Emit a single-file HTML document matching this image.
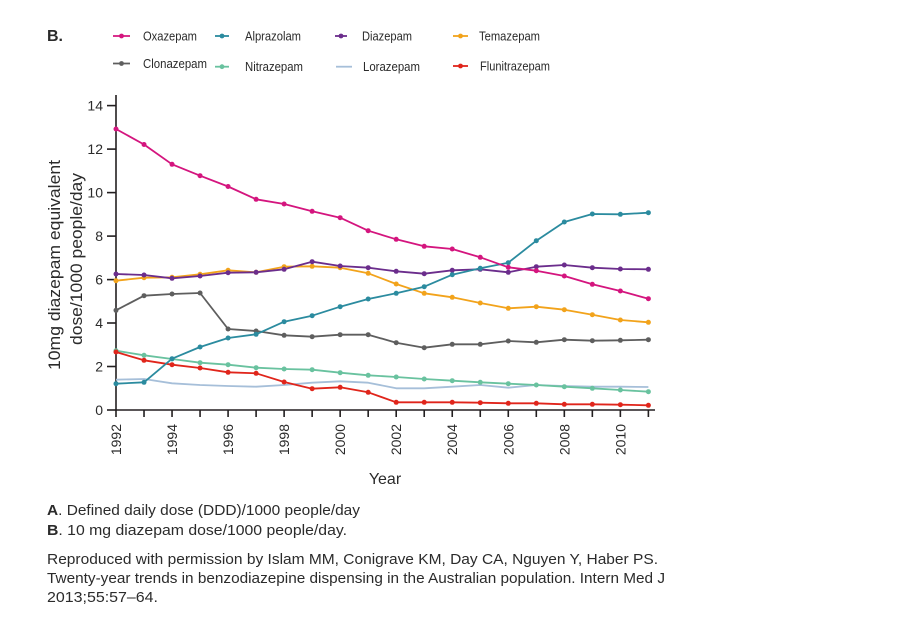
<!DOCTYPE html>
<html>
<head>
<meta charset="utf-8">
<style>
html,body{margin:0;padding:0;background:#fff;}
svg{display:block;}
text{font-family:"Liberation Sans",Arial,sans-serif;fill:#2b2b2b;}
</style>
</head>
<body>
<svg width="920" height="619" viewBox="0 0 920 619" xmlns="http://www.w3.org/2000/svg">
<rect width="920" height="619" fill="#fff"/>

<!-- Title -->
<text x="47" y="41" font-size="16" font-weight="bold" fill="#1a1a1a">B.</text>

<!-- Legend -->
<g stroke-width="1.8">
  <line x1="113" y1="36" x2="130" y2="36" stroke="#d4157e"/><circle cx="121.5" cy="36" r="2.4" fill="#d4157e"/>
  <line x1="215" y1="36" x2="229" y2="36" stroke="#2b8b9f"/><circle cx="222" cy="36" r="2.4" fill="#2b8b9f"/>
  <line x1="335" y1="36" x2="347" y2="36" stroke="#6b2d8c"/><circle cx="341" cy="36" r="2.4" fill="#6b2d8c"/>
  <line x1="453" y1="36" x2="468" y2="36" stroke="#f2a31b"/><circle cx="460.5" cy="36" r="2.4" fill="#f2a31b"/>
  <line x1="113" y1="63.5" x2="130" y2="63.5" stroke="#5e5e5e"/><circle cx="121.5" cy="63.5" r="2.4" fill="#5e5e5e"/>
  <line x1="215" y1="66.7" x2="229" y2="66.7" stroke="#69c29f"/><circle cx="222" cy="66.7" r="2.4" fill="#69c29f"/>
  <line x1="336" y1="66.7" x2="352" y2="66.7" stroke="#a6bfd9"/>
  <line x1="453" y1="66" x2="468" y2="66" stroke="#e0251b"/><circle cx="460.5" cy="66" r="2.4" fill="#e0251b"/>
</g>
<g font-size="13">
  <text x="143" y="40.5" textLength="54" lengthAdjust="spacingAndGlyphs">Oxazepam</text>
  <text x="245" y="40.5" textLength="56" lengthAdjust="spacingAndGlyphs">Alprazolam</text>
  <text x="362" y="40.5" textLength="50" lengthAdjust="spacingAndGlyphs">Diazepam</text>
  <text x="479" y="40.5" textLength="61" lengthAdjust="spacingAndGlyphs">Temazepam</text>
  <text x="143" y="68" textLength="64" lengthAdjust="spacingAndGlyphs">Clonazepam</text>
  <text x="245" y="71.2" textLength="58" lengthAdjust="spacingAndGlyphs">Nitrazepam</text>
  <text x="363" y="71.2" textLength="57" lengthAdjust="spacingAndGlyphs">Lorazepam</text>
  <text x="480" y="70.5" textLength="70" lengthAdjust="spacingAndGlyphs">Flunitrazepam</text>
</g>

<!-- Y axis label -->
<text transform="translate(60,265) rotate(-90)" text-anchor="middle" font-size="17" textLength="210" lengthAdjust="spacingAndGlyphs">10mg diazepam equivalent</text>
<text transform="translate(82,259) rotate(-90)" text-anchor="middle" font-size="17" textLength="172" lengthAdjust="spacingAndGlyphs">dose/1000 people/day</text>

<!-- Axes -->
<g stroke="#231f20" stroke-width="1.6" fill="none">
  <line x1="116" y1="95" x2="116" y2="410.8"/>
  <line x1="115.2" y1="410" x2="655" y2="410"/>
  <!-- y ticks -->
  <line x1="107" y1="410" x2="116" y2="410"/>
  <line x1="107" y1="366.5" x2="116" y2="366.5"/>
  <line x1="107" y1="323" x2="116" y2="323"/>
  <line x1="107" y1="279.6" x2="116" y2="279.6"/>
  <line x1="107" y1="236.1" x2="116" y2="236.1"/>
  <line x1="107" y1="192.6" x2="116" y2="192.6"/>
  <line x1="107" y1="149.1" x2="116" y2="149.1"/>
  <line x1="107" y1="105.6" x2="116" y2="105.6"/>
  <!-- x ticks -->
  <path d="M116 410v7 M144.02 410v7 M172.04 410v7 M200.06 410v7 M228.08 410v7 M256.1 410v7 M284.12 410v7 M312.14 410v7 M340.16 410v7 M368.18 410v7 M396.2 410v7 M424.22 410v7 M452.24 410v7 M480.26 410v7 M508.28 410v7 M536.3 410v7 M564.32 410v7 M592.34 410v7 M620.36 410v7 M648.38 410v7"/>
</g>

<!-- Y tick labels -->
<g font-size="14" text-anchor="end" fill="#333">
  <text x="103" y="415">0</text>
  <text x="103" y="371.5">2</text>
  <text x="103" y="328">4</text>
  <text x="103" y="284.6">6</text>
  <text x="103" y="241.1">8</text>
  <text x="103" y="197.6">10</text>
  <text x="103" y="154.1">12</text>
  <text x="103" y="110.6">14</text>
</g>

<!-- X tick labels -->
<g font-size="14" text-anchor="end">
  <text transform="translate(121,424) rotate(-90)">1992</text>
  <text transform="translate(177.04,424) rotate(-90)">1994</text>
  <text transform="translate(233.08,424) rotate(-90)">1996</text>
  <text transform="translate(289.12,424) rotate(-90)">1998</text>
  <text transform="translate(345.16,424) rotate(-90)">2000</text>
  <text transform="translate(401.2,424) rotate(-90)">2002</text>
  <text transform="translate(457.24,424) rotate(-90)">2004</text>
  <text transform="translate(513.28,424) rotate(-90)">2006</text>
  <text transform="translate(569.32,424) rotate(-90)">2008</text>
  <text transform="translate(625.36,424) rotate(-90)">2010</text>
</g>

<text x="385" y="484" font-size="16" text-anchor="middle" fill="#1a1a1a">Year</text>

<!-- Series -->
<g fill="none" stroke-width="1.8" stroke-linejoin="round">
  <polyline stroke="#a6bfd9" points="116,379.7 144.02,379 172.04,383.3 200.06,385 228.08,386 256.1,386.7 284.12,385 312.14,382.7 340.16,381.3 368.18,382.7 396.2,388.3 424.22,388.3 452.24,386.7 480.26,385 508.28,387.7 536.3,385 564.32,386 592.34,386.7 620.36,386.7 648.38,387"/>
  <polyline stroke="#69c29f" points="116,350.7 144.02,355.3 172.04,359 200.06,362.7 228.08,364.7 256.1,367.7 284.12,369 312.14,369.7 340.16,372.7 368.18,375.3 396.2,377 424.22,379 452.24,380.7 480.26,382.3 508.28,383.7 536.3,385 564.32,386.7 592.34,388.3 620.36,390 648.38,391.7"/>
  <polyline stroke="#e0251b" points="116,352 144.02,360.3 172.04,364.7 200.06,368 228.08,372.3 256.1,373.3 284.12,382 312.14,388.7 340.16,387.3 368.18,392.3 396.2,402.3 424.22,402.3 452.24,402.3 480.26,402.7 508.28,403.3 536.3,403.3 564.32,404.3 592.34,404.3 620.36,404.7 648.38,405.3"/>
  <polyline stroke="#5e5e5e" points="116,310.3 144.02,295.7 172.04,294 200.06,293 228.08,329 256.1,331 284.12,335.3 312.14,336.7 340.16,334.7 368.18,334.7 396.2,342.7 424.22,347.7 452.24,344.3 480.26,344.3 508.28,341 536.3,342.3 564.32,339.7 592.34,340.7 620.36,340.3 648.38,339.7"/>
  <polyline stroke="#f2a31b" points="116,280.7 144.02,277.7 172.04,277.3 200.06,274.3 228.08,270.3 256.1,272.3 284.12,266.7 312.14,266.3 340.16,267.7 368.18,273.3 396.2,284 424.22,293.3 452.24,297.3 480.26,303 508.28,308.3 536.3,306.7 564.32,309.7 592.34,314.7 620.36,320 648.38,322.3"/>
  <polyline stroke="#6b2d8c" points="116,274 144.02,275 172.04,278.3 200.06,276 228.08,272.7 256.1,272.3 284.12,269.3 312.14,261.7 340.16,266 368.18,267.7 396.2,271.3 424.22,273.7 452.24,270.3 480.26,269.3 508.28,272.3 536.3,266.7 564.32,265 592.34,267.7 620.36,269 648.38,269.3"/>
  <polyline stroke="#2b8b9f" points="116,383.7 144.02,382.3 172.04,358.7 200.06,347 228.08,338 256.1,334.3 284.12,321.7 312.14,315.7 340.16,306.7 368.18,299 396.2,293.3 424.22,286.7 452.24,274.7 480.26,268.3 508.28,262.7 536.3,240.7 564.32,222 592.34,214 620.36,214.3 648.38,212.7"/>
  <polyline stroke="#d4157e" points="116,129 144.02,144.5 172.04,164.3 200.06,175.7 228.08,186.5 256.1,199.3 284.12,204 312.14,211.3 340.16,217.7 368.18,230.7 396.2,239.3 424.22,246.3 452.24,249 480.26,257.3 508.28,267.3 536.3,270.7 564.32,276 592.34,284.3 620.36,291 648.38,298.7"/>
</g>

<!-- Markers -->
<g id="mk">
<g fill="#69c29f">
<circle cx="116" cy="350.7" r="2.5"/><circle cx="144.02" cy="355.3" r="2.5"/><circle cx="172.04" cy="359" r="2.5"/><circle cx="200.06" cy="362.7" r="2.5"/><circle cx="228.08" cy="364.7" r="2.5"/><circle cx="256.1" cy="367.7" r="2.5"/><circle cx="284.12" cy="369" r="2.5"/><circle cx="312.14" cy="369.7" r="2.5"/><circle cx="340.16" cy="372.7" r="2.5"/><circle cx="368.18" cy="375.3" r="2.5"/><circle cx="396.2" cy="377" r="2.5"/><circle cx="424.22" cy="379" r="2.5"/><circle cx="452.24" cy="380.7" r="2.5"/><circle cx="480.26" cy="382.3" r="2.5"/><circle cx="508.28" cy="383.7" r="2.5"/><circle cx="536.3" cy="385" r="2.5"/><circle cx="564.32" cy="386.7" r="2.5"/><circle cx="592.34" cy="388.3" r="2.5"/><circle cx="620.36" cy="390" r="2.5"/><circle cx="648.38" cy="391.7" r="2.5"/>
</g>
<g fill="#e0251b">
<circle cx="116" cy="352" r="2.5"/><circle cx="144.02" cy="360.3" r="2.5"/><circle cx="172.04" cy="364.7" r="2.5"/><circle cx="200.06" cy="368" r="2.5"/><circle cx="228.08" cy="372.3" r="2.5"/><circle cx="256.1" cy="373.3" r="2.5"/><circle cx="284.12" cy="382" r="2.5"/><circle cx="312.14" cy="388.7" r="2.5"/><circle cx="340.16" cy="387.3" r="2.5"/><circle cx="368.18" cy="392.3" r="2.5"/><circle cx="396.2" cy="402.3" r="2.5"/><circle cx="424.22" cy="402.3" r="2.5"/><circle cx="452.24" cy="402.3" r="2.5"/><circle cx="480.26" cy="402.7" r="2.5"/><circle cx="508.28" cy="403.3" r="2.5"/><circle cx="536.3" cy="403.3" r="2.5"/><circle cx="564.32" cy="404.3" r="2.5"/><circle cx="592.34" cy="404.3" r="2.5"/><circle cx="620.36" cy="404.7" r="2.5"/><circle cx="648.38" cy="405.3" r="2.5"/>
</g>
<g fill="#5e5e5e">
<circle cx="116" cy="310.3" r="2.5"/><circle cx="144.02" cy="295.7" r="2.5"/><circle cx="172.04" cy="294" r="2.5"/><circle cx="200.06" cy="293" r="2.5"/><circle cx="228.08" cy="329" r="2.5"/><circle cx="256.1" cy="331" r="2.5"/><circle cx="284.12" cy="335.3" r="2.5"/><circle cx="312.14" cy="336.7" r="2.5"/><circle cx="340.16" cy="334.7" r="2.5"/><circle cx="368.18" cy="334.7" r="2.5"/><circle cx="396.2" cy="342.7" r="2.5"/><circle cx="424.22" cy="347.7" r="2.5"/><circle cx="452.24" cy="344.3" r="2.5"/><circle cx="480.26" cy="344.3" r="2.5"/><circle cx="508.28" cy="341" r="2.5"/><circle cx="536.3" cy="342.3" r="2.5"/><circle cx="564.32" cy="339.7" r="2.5"/><circle cx="592.34" cy="340.7" r="2.5"/><circle cx="620.36" cy="340.3" r="2.5"/><circle cx="648.38" cy="339.7" r="2.5"/>
</g>
<g fill="#f2a31b">
<circle cx="116" cy="280.7" r="2.5"/><circle cx="144.02" cy="277.7" r="2.5"/><circle cx="172.04" cy="277.3" r="2.5"/><circle cx="200.06" cy="274.3" r="2.5"/><circle cx="228.08" cy="270.3" r="2.5"/><circle cx="256.1" cy="272.3" r="2.5"/><circle cx="284.12" cy="266.7" r="2.5"/><circle cx="312.14" cy="266.3" r="2.5"/><circle cx="340.16" cy="267.7" r="2.5"/><circle cx="368.18" cy="273.3" r="2.5"/><circle cx="396.2" cy="284" r="2.5"/><circle cx="424.22" cy="293.3" r="2.5"/><circle cx="452.24" cy="297.3" r="2.5"/><circle cx="480.26" cy="303" r="2.5"/><circle cx="508.28" cy="308.3" r="2.5"/><circle cx="536.3" cy="306.7" r="2.5"/><circle cx="564.32" cy="309.7" r="2.5"/><circle cx="592.34" cy="314.7" r="2.5"/><circle cx="620.36" cy="320" r="2.5"/><circle cx="648.38" cy="322.3" r="2.5"/>
</g>
<g fill="#6b2d8c">
<circle cx="116" cy="274" r="2.5"/><circle cx="144.02" cy="275" r="2.5"/><circle cx="172.04" cy="278.3" r="2.5"/><circle cx="200.06" cy="276" r="2.5"/><circle cx="228.08" cy="272.7" r="2.5"/><circle cx="256.1" cy="272.3" r="2.5"/><circle cx="284.12" cy="269.3" r="2.5"/><circle cx="312.14" cy="261.7" r="2.5"/><circle cx="340.16" cy="266" r="2.5"/><circle cx="368.18" cy="267.7" r="2.5"/><circle cx="396.2" cy="271.3" r="2.5"/><circle cx="424.22" cy="273.7" r="2.5"/><circle cx="452.24" cy="270.3" r="2.5"/><circle cx="480.26" cy="269.3" r="2.5"/><circle cx="508.28" cy="272.3" r="2.5"/><circle cx="536.3" cy="266.7" r="2.5"/><circle cx="564.32" cy="265" r="2.5"/><circle cx="592.34" cy="267.7" r="2.5"/><circle cx="620.36" cy="269" r="2.5"/><circle cx="648.38" cy="269.3" r="2.5"/>
</g>
<g fill="#2b8b9f">
<circle cx="116" cy="383.7" r="2.5"/><circle cx="144.02" cy="382.3" r="2.5"/><circle cx="172.04" cy="358.7" r="2.5"/><circle cx="200.06" cy="347" r="2.5"/><circle cx="228.08" cy="338" r="2.5"/><circle cx="256.1" cy="334.3" r="2.5"/><circle cx="284.12" cy="321.7" r="2.5"/><circle cx="312.14" cy="315.7" r="2.5"/><circle cx="340.16" cy="306.7" r="2.5"/><circle cx="368.18" cy="299" r="2.5"/><circle cx="396.2" cy="293.3" r="2.5"/><circle cx="424.22" cy="286.7" r="2.5"/><circle cx="452.24" cy="274.7" r="2.5"/><circle cx="480.26" cy="268.3" r="2.5"/><circle cx="508.28" cy="262.7" r="2.5"/><circle cx="536.3" cy="240.7" r="2.5"/><circle cx="564.32" cy="222" r="2.5"/><circle cx="592.34" cy="214" r="2.5"/><circle cx="620.36" cy="214.3" r="2.5"/><circle cx="648.38" cy="212.7" r="2.5"/>
</g>
<g fill="#d4157e">
<circle cx="116" cy="129" r="2.5"/><circle cx="144.02" cy="144.5" r="2.5"/><circle cx="172.04" cy="164.3" r="2.5"/><circle cx="200.06" cy="175.7" r="2.5"/><circle cx="228.08" cy="186.5" r="2.5"/><circle cx="256.1" cy="199.3" r="2.5"/><circle cx="284.12" cy="204" r="2.5"/><circle cx="312.14" cy="211.3" r="2.5"/><circle cx="340.16" cy="217.7" r="2.5"/><circle cx="368.18" cy="230.7" r="2.5"/><circle cx="396.2" cy="239.3" r="2.5"/><circle cx="424.22" cy="246.3" r="2.5"/><circle cx="452.24" cy="249" r="2.5"/><circle cx="480.26" cy="257.3" r="2.5"/><circle cx="508.28" cy="267.3" r="2.5"/><circle cx="536.3" cy="270.7" r="2.5"/><circle cx="564.32" cy="276" r="2.5"/><circle cx="592.34" cy="284.3" r="2.5"/><circle cx="620.36" cy="291" r="2.5"/><circle cx="648.38" cy="298.7" r="2.5"/>
</g>
</g>

<!-- Footnotes -->
<g font-size="15" fill="#2b2b2b">
  <text x="47" y="515" textLength="313" lengthAdjust="spacingAndGlyphs"><tspan font-weight="bold">A</tspan>. Defined daily dose (DDD)/1000 people/day</text>
  <text x="47" y="535" textLength="300" lengthAdjust="spacingAndGlyphs"><tspan font-weight="bold">B</tspan>. 10 mg diazepam dose/1000 people/day.</text>
  <text x="47" y="564" textLength="611" lengthAdjust="spacingAndGlyphs">Reproduced with permission by Islam MM, Conigrave KM, Day CA, Nguyen Y, Haber PS.</text>
  <text x="47" y="583" textLength="618" lengthAdjust="spacingAndGlyphs">Twenty-year trends in benzodiazepine dispensing in the Australian population. Intern Med J</text>
  <text x="47" y="602" textLength="111" lengthAdjust="spacingAndGlyphs">2013;55:57–64.</text>
</g>
</svg>
</body>
</html>
